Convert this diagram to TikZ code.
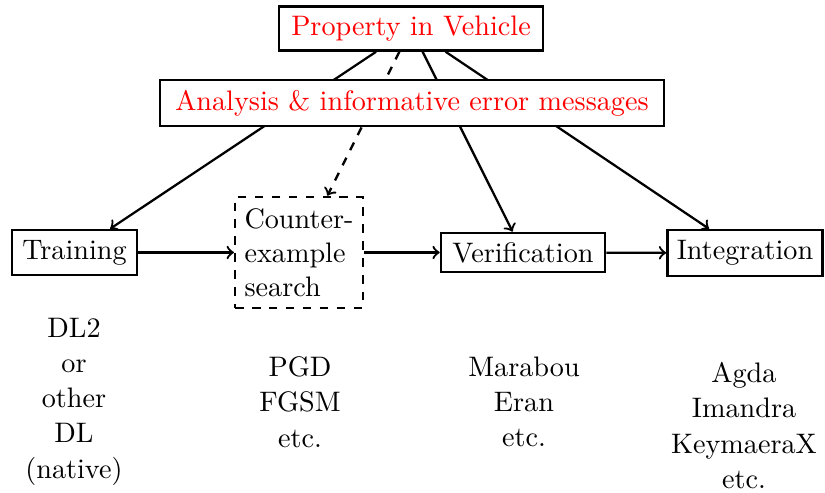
\documentclass[tikz,border=0pt]{standalone}
\begin{document}
\begin{tikzpicture}[x=0.3546pt,y=-0.3546pt,
  box/.style={draw,line width=0.85pt,fill=white},
  redbox/.style={box,text=red},
  conn/.style={->,line width=0.8pt},
  note/.style={align=center,inner sep=0pt,font=\fontsize{10pt}{12.5pt}\selectfont}]
\useasboundingbox (0,0) rectangle (825,493);
\node[redbox,minimum width=93.6pt,minimum height=15.2pt] (prop) at (411,28.5) {Property in Vehicle};
\node[box,minimum width=44.3pt,minimum height=16pt] (train) at (74.5,252.5) {Training};
\node[box,dashed,align=left,minimum width=44pt,minimum height=39.4pt] (counter) at (299,252.5) {Counter-\\example\\search};
\node[box,minimum width=58.2pt,minimum height=13.8pt] (verif) at (523,252.5) {Verification};
\node[box,minimum width=54.6pt,minimum height=16.3pt] (integ) at (745,253) {Integration};
\draw[conn] (train) -- (counter);
\draw[conn] (counter) -- (verif);
\draw[conn] (verif) -- (integ);
\draw[conn] (prop) -- (train);
\draw[conn,dashed] (prop) -- (counter);
\draw[conn] (prop) -- (verif);
\draw[conn] (prop) -- (integ);
\node[redbox,minimum width=178.7pt,minimum height=16.3pt] (anal) at (412,103) {Analysis \& informative error messages};
\node[note] (t1) at (74,401.5) {DL2\\or\\other\\DL\\(native)};
\node[note] (t2) at (300,402) {PGD\\FGSM\\etc.};
\node[note] (t3) at (524,402) {Marabou\\Eran\\etc.};
\node[note] (t4) at (744,425.5) {Agda\\Imandra\\KeymaeraX\\etc.};
\end{tikzpicture}
\end{document}
